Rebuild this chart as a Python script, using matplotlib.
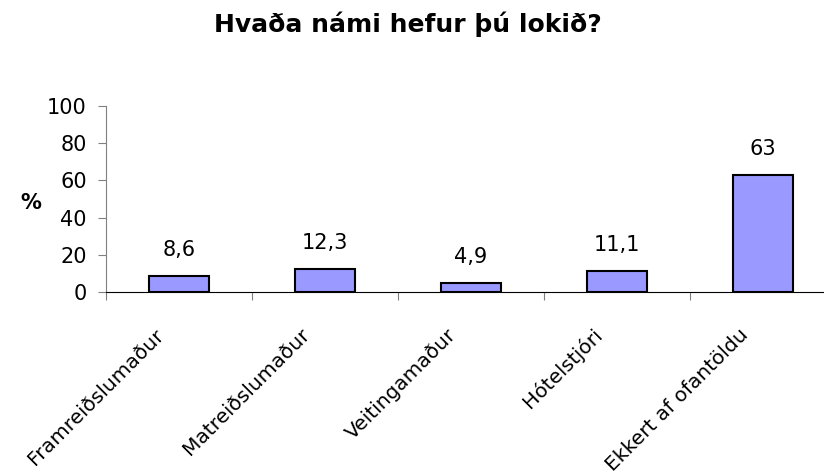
import matplotlib
matplotlib.use("Agg")
import matplotlib.pyplot as plt
import matplotlib.transforms as mtransforms
import numpy as np

plt.rcParams['font.family'] = ['DejaVu Sans']

# data
categories = ['Framreiðslumaður', 'Matreiðslumaður', 'Veitingamaður',
              'Hótelstjóri', 'Ekkert af ofantöldu']
values = [8.6, 12.3, 4.9, 11.1, 63]
yticks = [0, 20, 40, 60, 80, 100]

fig = plt.figure(figsize=(8.24, 4.75), dpi=100)
ax = fig.add_axes([106 / 824, 183 / 475, 730 / 824, 186 / 475])

x = np.arange(len(categories))
bars = ax.bar(x, values, width=0.41, color='#9999ff', edgecolor='black', linewidth=1.5)

# value labels above the bars
for xi, v in zip(x, values):
    txt = f"{v:g}".replace('.', ',')
    ax.annotate(txt, (xi, v), xytext=(0, 14.4), textcoords='offset points',
                ha='center', va='baseline', fontsize=15)

ax.set_xlim(-0.5, len(categories) - 0.5)
ax.set_ylim(0, 100)
ax.set_yticks(yticks)
ax.tick_params(axis='y', labelsize=15, length=5.8, width=0.8, pad=8, color='#808080')

# category labels centred, tick marks between categories
ax.set_xticks(x)
ax.set_xticklabels(categories, fontsize=14.5, rotation=45, ha='right', va='center',
                   rotation_mode='anchor')
ax.tick_params(axis='x', which='major', length=0, pad=0)
ax.set_xticks(np.arange(-0.5, len(categories), 1), minor=True)
ax.tick_params(axis='x', which='minor', length=5.8, width=0.8, color='#808080')
offset = mtransforms.ScaledTranslation(-18 / 100, -40 / 100, fig.dpi_scale_trans)
for lab in ax.get_xticklabels():
    lab.set_transform(lab.get_transform() + offset)

for s in ['top', 'right']:
    ax.spines[s].set_visible(False)
ax.spines['left'].set_color('#808080')
ax.spines['bottom'].set_color('black')

fig.text(408 / 824, 1 - 32 / 475, 'Hvaða námi hefur þú lokið?', ha='center',
         va='baseline', fontsize=18, fontweight='bold')
fig.text(31 / 824, 1 - 203 / 475, '%', ha='center', va='center', fontsize=15,
         fontweight='bold')

fig.savefig('out.png', dpi=100)
